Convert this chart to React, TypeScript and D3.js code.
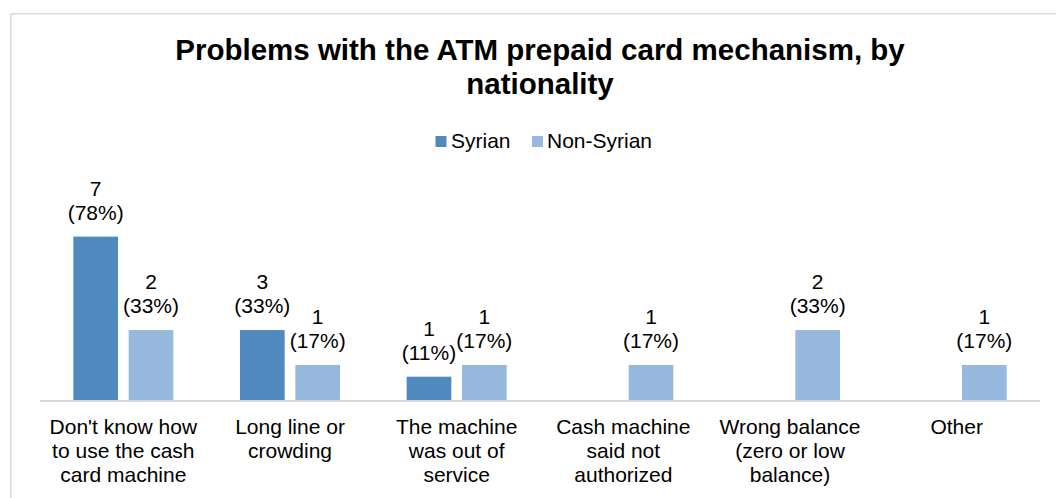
import React from "react";
import * as d3 from "d3";

const categories: string[][] = [
  ["Don't know how", "to use the cash", "card machine"],
  ["Long line or", "crowding"],
  ["The machine", "was out of", "service"],
  ["Cash machine", "said not", "authorized"],
  ["Wrong balance", "(zero or low", "balance)"],
  ["Other"],
];
const seriesNames = ["Syrian", "Non-Syrian"];
const syrianCounts: (number | null)[] = [7, 3, 1, null, null, null];
const syrianPct: (number | null)[] = [77.8, 33.3, 11.1, null, null, null];
const nonSyrianCounts: (number | null)[] = [2, 1, 1, 1, 2, 1];
const nonSyrianPct: (number | null)[] = [33.3, 16.7, 16.7, 16.7, 33.3, 16.7];
const colors = ["#4f89bd", "#97b9de"];
const title = ["Problems with the ATM prepaid card mechanism, by", "nationality"];

const W = 1056;
const H = 498;
const FONT = "Arial, 'Liberation Sans', sans-serif";

export default function App() {
  const catKeys = categories.map((c) => c.join(" "));
  const x0 = d3.scaleBand<string>().domain(catKeys).range([40, 1040]).paddingInner(0.4).paddingOuter(0.2);
  const x1 = d3.scaleBand<string>().domain(seriesNames).range([0, x0.bandwidth()]).paddingInner(0.193).paddingOuter(0);
  const y = d3.scaleLinear().domain([0, 80]).range([400, 232]);

  const series = [
    { name: seriesNames[0], counts: syrianCounts, pct: syrianPct, color: colors[0] },
    { name: seriesNames[1], counts: nonSyrianCounts, pct: nonSyrianPct, color: colors[1] },
  ];

  return (
    <svg width={W} height={H} style={{ position: "absolute", left: 0, top: 0, background: "#fff" }} fontFamily={FONT}>
      <rect x={0} y={0} width={W} height={H} fill="#fff" />
      <rect x={10.75} y={13.75} width={W + 20} height={H + 20} fill="none" stroke="#d9d9d9" strokeWidth={1.5} />
      {title.map((t, i) => (
        <text key={i} x={540} y={60 + i * 34} textAnchor="middle" fontSize={29.5} fontWeight="bold" fill="#000">
          {t}
        </text>
      ))}
      {/* legend */}
      <rect x={435.5} y={136} width={11} height={11} fill={colors[0]} />
      <text x={451} y={147.5} fontSize={21} fill="#000">{seriesNames[0]}</text>
      <rect x={532} y={136} width={11} height={11} fill={colors[1]} />
      <text x={547} y={147.5} fontSize={21} fill="#000">{seriesNames[1]}</text>

      {series.map((s) =>
        catKeys.map((k, i) => {
          const v = s.pct[i];
          const c = s.counts[i];
          if (v == null || c == null) return null;
          const bx = (x0(k) ?? 0) + (x1(s.name) ?? 0);
          const bw = x1.bandwidth();
          const top = y(v);
          const cx = bx + bw / 2;
          return (
            <g key={s.name + i}>
              <rect x={bx} y={top} width={bw} height={y(0) - top} fill={s.color} />
              <text x={cx} y={top - 41} textAnchor="middle" fontSize={21} fill="#000">{c}</text>
              <text x={cx} y={top - 17} textAnchor="middle" fontSize={21} fill="#000">({Math.round(v)}%)</text>
            </g>
          );
        })
      )}
      <line x1={40} x2={1040} y1={401} y2={401} stroke="#d9d9d9" strokeWidth={2} />
      {categories.map((lines, i) => {
        const cx = (x0(catKeys[i]) ?? 0) + x0.bandwidth() / 2;
        return (
          <text key={i} textAnchor="middle" fontSize={21} fill="#000">
            {lines.map((l, j) => (
              <tspan key={j} x={cx} y={433.5 + j * 24}>{l}</tspan>
            ))}
          </text>
        );
      })}
    </svg>
  );
}
